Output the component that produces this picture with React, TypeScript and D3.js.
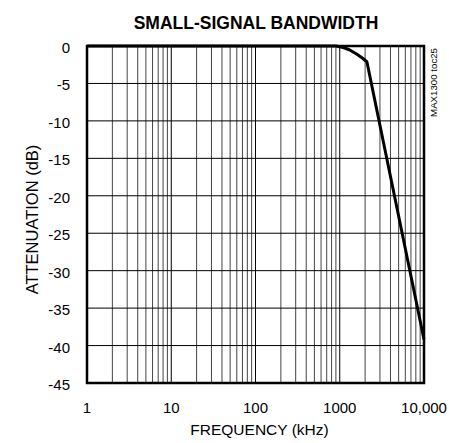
import * as d3 from 'd3';

const freqKHz = [1, 10, 100, 600, 900, 1100, 1300, 1600, 1850, 2100, 10000];
const attenDb = [0, 0, 0, 0, 0, -0.2, -0.5, -1.1, -1.6, -2.1, -39.2];
const yTicks = [0, -5, -10, -15, -20, -25, -30, -35, -40, -45];
const xTicks = [1, 10, 100, 1000, 10000];
const xTickLabels = ['1', '10', '100', '1000', '10,000'];

const W = 449;
const H = 443;
const margin = { top: 46, right: 25, bottom: 60, left: 87 };
const font = '"Liberation Sans", Arial, sans-serif';

const App = () => {
  const innerW = W - margin.left - margin.right;
  const innerH = H - margin.top - margin.bottom;

  const x = d3.scaleLog().domain([1, 10000]).range([0, innerW]);
  const y = d3.scaleLinear().domain([-45, 0]).range([innerH, 0]);

  // minor grid 2..9 of each decade
  const minor: number[] = [];
  for (let dec = 1; dec < 10000; dec *= 10) {
    for (let k = 2; k <= 9; k++) minor.push(dec * k);
  }

  const line = d3
    .line<number>()
    .x((_, i) => x(freqKHz[i]))
    .y((d) => y(d));

  return (
    <svg width={W} height={H} style={{ display: 'block', position: 'absolute', left: 0, top: 0 }}>
      <text x={256} y={29} textAnchor="middle" fontFamily={font} fontWeight="bold" fontSize={17.5}>
        SMALL-SIGNAL BANDWIDTH
      </text>
      <g transform={`translate(${margin.left},${margin.top})`}>
        {minor.map((f) => (
          <line key={'m' + f} x1={x(f)} x2={x(f)} y1={0} y2={innerH} stroke="#444" strokeWidth={1} />
        ))}
        {xTicks.slice(1, -1).map((f) => (
          <line key={'M' + f} x1={x(f)} x2={x(f)} y1={0} y2={innerH} stroke="#000" strokeWidth={1} />
        ))}
        {yTicks.slice(1, -1).map((t) => (
          <line key={'h' + t} x1={0} x2={innerW} y1={y(t)} y2={y(t)} stroke="#000" strokeWidth={1} />
        ))}
        <path d={line(attenDb) as string} fill="none" stroke="#000" strokeWidth={3} strokeLinejoin="round" />
        <rect x={0} y={0} width={innerW} height={innerH} fill="none" stroke="#000" strokeWidth={2.5} />
        {yTicks.map((t) => (
          <text key={'yl' + t} x={-17} y={y(t) + 7} textAnchor="end" fontFamily={font} fontSize={15}>
            {t}
          </text>
        ))}
        {xTicks.map((f, i) => (
          <text key={'xl' + f} x={x(f)} y={innerH + 30} textAnchor="middle" fontFamily={font} fontSize={15}>
            {xTickLabels[i]}
          </text>
        ))}
        <text x={innerW / 2 + 4} y={innerH + 52} textAnchor="middle" fontFamily={font} fontSize={15.5}>
          FREQUENCY (kHz)
        </text>
        <text
          transform={`translate(${-49},${innerH / 2 + 5}) rotate(-90)`}
          textAnchor="middle"
          fontFamily={font}
          fontSize={16.5}
        >
          ATTENUATION (dB)
        </text>
        <text
          transform={`translate(${innerW + 13},${2}) rotate(-90)`}
          textAnchor="end"
          fontFamily={font}
          fontSize={9.7}
        >
          MAX1300 toc25
        </text>
      </g>
    </svg>
  );
};

export default App;
